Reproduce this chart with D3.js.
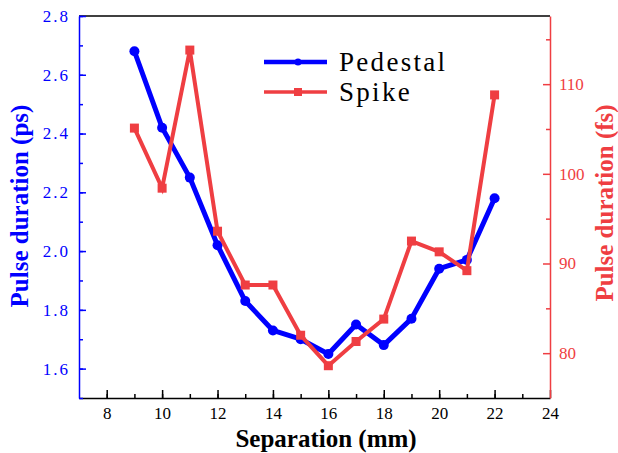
<!DOCTYPE html>
<html>
<head>
<meta charset="utf-8">
<title>Pulse duration vs separation</title>
<script src="https://d3js.org/d3.v7.min.js"></script>
<style>
  body { margin: 0; background: #fff; }
</style>
</head>
<body>
<svg width="618" height="453"></svg>
<script>
// data
var separation = [9, 10, 11, 12, 13, 14, 15, 16, 17, 18, 19, 20, 21, 22];
var pedestal = [2.68, 2.42, 2.25, 2.02, 1.83, 1.73, 1.70, 1.65, 1.75, 1.68, 1.77, 1.94, 1.97, 2.18];
var spike = [105.1, 98.4, 113.8, 93.6, 87.6, 87.6, 82.0, 78.6, 81.3, 83.8, 92.5, 91.3, 89.2, 108.8];
var xTicks = [8, 10, 12, 14, 16, 18, 20, 22, 24];
var leftTicks = [1.6, 1.8, 2.0, 2.2, 2.4, 2.6, 2.8];
var rightTicks = [80, 90, 100, 110];
var seriesNames = ["Pedestal", "Spike"];

var blue = "#0000ff", red = "#ef3e42";
var serif = "Liberation Serif";

var margin = {top: 16, right: 68, bottom: 55, left: 79},
    width = 618 - margin.left - margin.right,
    height = 453 - margin.top - margin.bottom;

var svg = d3.select("svg");
var g = svg.append("g").attr("transform", "translate(" + margin.left + "," + margin.top + ")");

var x = d3.scaleLinear().domain([7, 24]).range([0, width]);
var yL = d3.scaleLinear().domain([1.5, 2.8]).range([height, 0]);
var yR = d3.scaleLinear().domain([75, 117.6]).range([height, 0]);

// top frame line
g.append("line").attr("x1", 0).attr("x2", width).attr("y1", 0).attr("y2", 0)
  .attr("stroke", "#000").attr("stroke-width", 1.5);

function styleAxis(sel, color, spacing) {
  sel.attr("font-family", serif).attr("font-size", 17);
  sel.select(".domain").attr("stroke", color).attr("stroke-width", 1.5);
  sel.selectAll("line").attr("stroke", color).attr("stroke-width", 1.5);
  sel.selectAll("text").attr("fill", color).attr("letter-spacing", spacing);
}

// bottom axis, ticks pointing in
var xMinor = g.append("g").attr("transform", "translate(0," + height + ")")
  .call(d3.axisBottom(x).tickValues(d3.range(8, 24, 1)).tickSize(-4).tickFormat(""));
xMinor.select(".domain").remove();
xMinor.selectAll("line").attr("stroke", "#000").attr("stroke-width", 1.5);

var xAxis = g.append("g").attr("transform", "translate(0," + height + ")")
  .call(d3.axisBottom(x).tickValues(xTicks).tickSizeInner(-8).tickSizeOuter(0).tickPadding(9));
styleAxis(xAxis, "#000", 0);

// left axis
var lMinor = g.append("g")
  .call(d3.axisLeft(yL).tickValues(d3.range(1.5, 2.85, 0.1)).tickSize(-4).tickFormat(""));
lMinor.select(".domain").remove();
lMinor.selectAll("line").attr("stroke", blue).attr("stroke-width", 1.5);

var lAxis = g.append("g")
  .call(d3.axisLeft(yL).tickValues(leftTicks).tickSizeInner(-7).tickSizeOuter(0).tickPadding(9).tickFormat(d3.format(".1f")));
styleAxis(lAxis, blue, 2);

// right axis
var rMinor = g.append("g").attr("transform", "translate(" + width + ",0)")
  .call(d3.axisRight(yR).tickValues([85, 95, 105, 115]).tickSize(-4).tickFormat(""));
rMinor.select(".domain").remove();
rMinor.selectAll("line").attr("stroke", red).attr("stroke-width", 1.5);

var rAxis = g.append("g").attr("transform", "translate(" + width + ",0)")
  .call(d3.axisRight(yR).tickValues(rightTicks).tickSizeInner(-7).tickSizeOuter(0).tickPadding(9));
styleAxis(rAxis, red, 0);

// series
var pedData = separation.map(function(s, i) { return [s, pedestal[i]]; });
var spkData = separation.map(function(s, i) { return [s, spike[i]]; });

g.append("path").datum(pedData)
  .attr("fill", "none").attr("stroke", blue).attr("stroke-width", 5).attr("stroke-linejoin", "round")
  .attr("d", d3.line().x(function(d) { return x(d[0]); }).y(function(d) { return yL(d[1]); }));
g.selectAll(".ped").data(pedData).enter().append("circle")
  .attr("cx", function(d) { return x(d[0]); })
  .attr("cy", function(d) { return yL(d[1]); })
  .attr("r", 5).attr("fill", blue);

g.append("path").datum(spkData)
  .attr("fill", "none").attr("stroke", red).attr("stroke-width", 4).attr("stroke-linejoin", "miter")
  .attr("d", d3.line().x(function(d) { return x(d[0]); }).y(function(d) { return yR(d[1]); }));
g.selectAll(".spk").data(spkData).enter().append("rect")
  .attr("x", function(d) { return x(d[0]) - 4.5; })
  .attr("y", function(d) { return yR(d[1]) - 4.5; })
  .attr("width", 9).attr("height", 9).attr("fill", red);

// legend
var legend = svg.append("g");
var legY = [62, 92], legCol = [blue, red], legW = [4.5, 3.5];
seriesNames.forEach(function(name, i) {
  legend.append("line").attr("x1", 264).attr("x2", 327).attr("y1", legY[i]).attr("y2", legY[i])
    .attr("stroke", legCol[i]).attr("stroke-width", legW[i]);
  if (i === 0) legend.append("circle").attr("cx", 298).attr("cy", legY[i]).attr("r", 3.5).attr("fill", blue);
  else legend.append("rect").attr("x", 294).attr("y", legY[i] - 4).attr("width", 8).attr("height", 8).attr("fill", red);
  legend.append("text").attr("x", 339).attr("y", legY[i] + 9).attr("fill", "#000")
    .attr("font-family", serif).attr("font-size", 27).attr("letter-spacing", 2.3)
    .text(name);
});

// axis titles
function title(sel) {
  return sel.attr("text-anchor", "middle").attr("font-family", serif)
    .attr("font-weight", "bold").attr("font-size", 25);
}
title(svg.append("text")).attr("x", 326).attr("y", 447).attr("fill", "#000")
  .text("Separation (mm)");
title(svg.append("text")).attr("transform", "translate(28,206) rotate(-90)").attr("fill", blue)
  .text("Pulse duration (ps)");
title(svg.append("text")).attr("transform", "translate(613,203) rotate(-90)").attr("fill", red)
  .text("Pulse duration (fs)");
</script>
</body>
</html>
